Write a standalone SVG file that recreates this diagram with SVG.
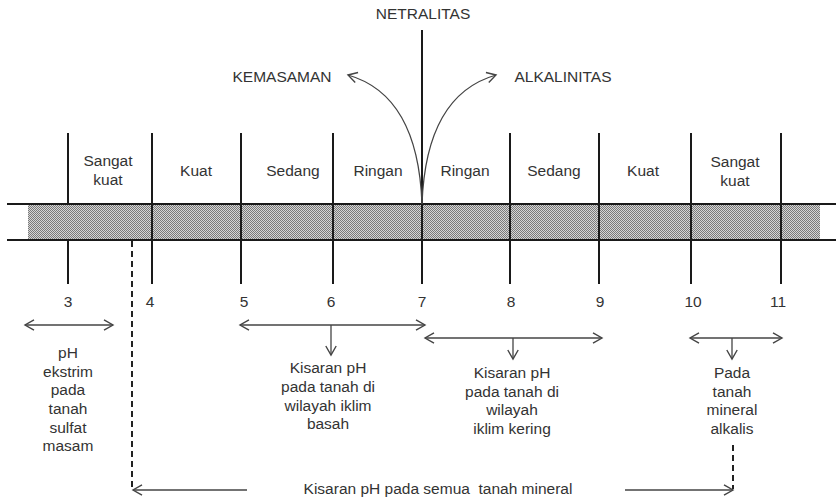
<svg xmlns="http://www.w3.org/2000/svg" width="836" height="498" viewBox="0 0 836 498">
<style>
text{font-family:"Liberation Sans",Arial,sans-serif;font-size:15.5px;fill:#333;text-anchor:middle}
.v{stroke:#1a1a1a;stroke-width:2;fill:none}
.h{stroke:#1a1a1a;stroke-width:2;fill:none}
.a{stroke:#444;stroke-width:1.3;fill:none}
.d{stroke:#222;stroke-width:2;fill:none;stroke-dasharray:6,4}
</style>
<defs>
<pattern id="dots" width="2" height="2" patternUnits="userSpaceOnUse">
<rect width="2" height="2" fill="#d6d6d6"/>
<rect width="1" height="1" fill="#7a7a7a"/>
<rect x="1" y="1" width="1" height="1" fill="#7a7a7a"/>
</pattern>
<marker id="ah" viewBox="0 0 12 12" refX="10" refY="6" markerWidth="12" markerHeight="12" markerUnits="userSpaceOnUse" orient="auto-start-reverse">
<path d="M1,0.8 L10,6 L1,11.2" fill="none" stroke="#444" stroke-width="1.4"/>
</marker>
</defs>

<g id="strip">
<rect x="28" y="204" width="792" height="36" fill="url(#dots)"/>
<line class="h" x1="7" y1="204" x2="836" y2="204"/>
<line class="h" x1="7" y1="240" x2="836" y2="240"/>
</g>

<g id="ticks">
<line class="v" x1="68" y1="133" x2="68" y2="204"/>
<line class="v" x1="68" y1="240" x2="68" y2="284"/>
<line class="v" x1="152" y1="133" x2="152" y2="284"/>
<line class="v" x1="241" y1="133" x2="241" y2="284"/>
<line class="v" x1="333" y1="133" x2="333" y2="284"/>
<line class="v" x1="422" y1="30" x2="422" y2="284"/>
<line class="v" x1="510" y1="133" x2="510" y2="284"/>
<line class="v" x1="599" y1="133" x2="599" y2="284"/>
<line class="v" x1="691" y1="133" x2="691" y2="284"/>
<line class="v" x1="781" y1="133" x2="781" y2="284"/>
</g>

<g id="top-labels">
<text x="423" y="19">NETRALITAS</text>
<text x="282" y="82">KEMASAMAN</text>
<text x="563" y="82">ALKALINITAS</text>
<text x="108" y="166">Sangat</text>
<text x="108" y="185">kuat</text>
<text x="196" y="176">Kuat</text>
<text x="293" y="176">Sedang</text>
<text x="378" y="176">Ringan</text>
<text x="465" y="176">Ringan</text>
<text x="554" y="176">Sedang</text>
<text x="643" y="176">Kuat</text>
<text x="735" y="167">Sangat</text>
<text x="735" y="186">kuat</text>
</g>

<g id="numbers">
<text x="68" y="307">3</text>
<text x="150" y="307">4</text>
<text x="244" y="307">5</text>
<text x="331" y="307">6</text>
<text x="422" y="307">7</text>
<text x="511" y="307">8</text>
<text x="600" y="307">9</text>
<text x="693" y="307">10</text>
<text x="778" y="307">11</text>
</g>

<g id="connectors">
<path class="a" d="M422,204 Q418,95 348,75" marker-end="url(#ah)"/>
<path class="a" d="M422,204 Q426,95 496,75" marker-end="url(#ah)"/>
<line class="a" x1="25" y1="325" x2="113" y2="325" marker-start="url(#ah)" marker-end="url(#ah)"/>
<line class="a" x1="240" y1="325" x2="425" y2="325" marker-start="url(#ah)" marker-end="url(#ah)"/>
<line class="a" x1="331" y1="325" x2="331" y2="355" marker-end="url(#ah)"/>
<line class="a" x1="425" y1="338" x2="602" y2="338" marker-start="url(#ah)" marker-end="url(#ah)"/>
<line class="a" x1="513" y1="338" x2="513" y2="359" marker-end="url(#ah)"/>
<line class="a" x1="690" y1="338" x2="782" y2="338" marker-start="url(#ah)" marker-end="url(#ah)"/>
<line class="a" x1="732" y1="338" x2="732" y2="359" marker-end="url(#ah)"/>
<line class="d" x1="132" y1="241" x2="132" y2="489"/>
<line class="a" x1="247" y1="490" x2="133" y2="490" marker-end="url(#ah)"/>
<line class="d" x1="733" y1="445" x2="733" y2="489"/>
<line class="a" x1="625" y1="490" x2="733" y2="490" marker-end="url(#ah)"/>
</g>

<g id="note-ekstrim">
<text x="68" y="358">pH</text>
<text x="68" y="377">ekstrim</text>
<text x="68" y="395">pada</text>
<text x="68" y="414">tanah</text>
<text x="68" y="433">sulfat</text>
<text x="68" y="451">masam</text>
</g>

<g id="note-basah">
<text x="328" y="373">Kisaran pH</text>
<text x="328" y="392">pada tanah di</text>
<text x="328" y="411">wilayah iklim</text>
<text x="328" y="429">basah</text>
</g>

<g id="note-kering">
<text x="512" y="378">Kisaran pH</text>
<text x="512" y="397">pada tanah di</text>
<text x="512" y="415">wilayah</text>
<text x="512" y="434">iklim kering</text>
</g>

<g id="note-alkalis">
<text x="732" y="378">Pada</text>
<text x="732" y="397">tanah</text>
<text x="732" y="415">mineral</text>
<text x="732" y="434">alkalis</text>
</g>

<g id="note-mineral">
<text x="438" y="494" xml:space="preserve">Kisaran pH pada semua  tanah mineral</text>
</g>
</svg>
